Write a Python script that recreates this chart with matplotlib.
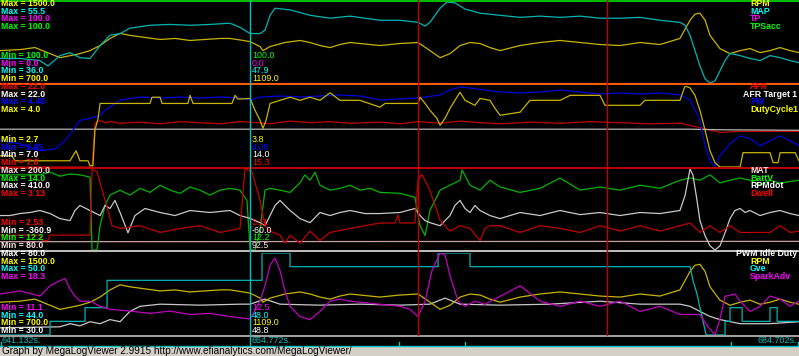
import matplotlib
matplotlib.use('Agg')
import matplotlib.pyplot as plt
from matplotlib.patches import Rectangle

W, H = 799, 356
t_start, t_end = 641.132, 684.702
cursor_t = 654.772
marker_t = [663.93, 674.23]
tick_t = [641.18, 662.89, 666.49, 681.0, 684.65]

# ---- panel 1 ----
rpm_t = [641.13, 642.22, 643.04, 643.86, 644.40, 644.95, 645.49, 646.04, 646.59, 647.13, 647.68,
         648.22, 649.04, 649.86, 650.68, 651.49, 652.31, 653.13, 653.67, 654.22, 654.77, 655.31,
         655.47, 655.86, 656.67, 657.49, 658.04, 658.58, 659.13, 659.67, 660.22, 661.04, 661.85,
         662.94, 663.93, 664.58, 665.13, 665.67, 666.22, 666.76, 667.31, 667.85, 668.40, 669.49,
         670.58, 671.67, 672.76, 673.85, 674.94, 676.03, 677.12, 678.21, 678.76, 679.03, 679.30,
         679.58, 679.85, 680.39, 680.94, 681.49, 682.03, 682.58, 683.12, 683.67, 684.21, 684.70]
rpm_v = [1020, 1030, 1050, 990, 950, 970, 990, 1020, 1070, 1140, 1190,
         1170, 1150, 1130, 1140, 1120, 1130, 1140, 1140, 1125, 1109, 1060,
         1020, 1060, 1100, 1120, 1100, 1070, 1050, 1080, 1100, 1085, 1070,
         1090, 1100, 1020, 950, 990, 1070, 1100, 1090, 1050, 1020, 1070,
         1100, 1120, 1100, 1080, 1070, 1100, 1080, 1140, 1320, 1380, 1390,
         1320, 1170, 1040, 990, 1020, 1040, 1000, 1020, 1050, 1020, 1000]

map_t = [641.13, 642.22, 643.31, 643.75, 644.40, 644.95, 645.49, 646.04, 646.59, 647.13, 647.68,
         648.22, 649.31, 650.40, 651.49, 652.58, 653.67, 654.22, 654.77, 655.31, 655.58, 655.86,
         656.13, 656.95, 658.04, 659.13, 660.22, 661.85, 662.94, 663.93, 664.31, 664.58, 665.13,
         665.51, 665.94, 666.49, 667.31, 668.40, 669.49, 670.58, 671.67, 672.76, 673.85, 674.94,
         676.03, 677.12, 678.21, 678.49, 678.76, 679.03, 679.30, 679.58, 679.85, 680.12, 680.39,
         680.67, 680.94, 681.49, 682.03, 682.58, 683.12, 683.67, 684.21, 684.70]
map_v = [41.9, 41.9, 41.4, 40.1, 42.6, 43.3, 42.1, 41.9, 45.0, 47.5, 47.9,
         49.2, 49.9, 50.1, 49.9, 50.1, 50.4, 49.4, 47.9, 47.9, 48.7, 52.3,
         54.0, 53.6, 52.3, 51.6, 52.1, 51.1, 51.1, 50.6, 49.7, 50.6, 54.0,
         55.5, 55.3, 53.8, 52.8, 52.3, 51.8, 52.1, 51.8, 52.1, 51.6, 51.6,
         51.8, 51.1, 50.6, 49.9, 47.5, 43.8, 40.1, 37.0, 36.0, 36.5, 38.9,
         41.4, 43.1, 42.6, 41.9, 41.4, 42.6, 42.1, 41.4, 40.9]

tp_t = [641.13, 684.70]
tp_v = [0.0, 0.0]

# ---- panel 2 ----
afr_t = [641.13, 646.15, 646.31, 646.59, 646.86, 647.13, 647.68, 648.77, 649.86, 650.95, 652.04,
         653.13, 654.22, 654.77, 655.86, 656.95, 658.04, 659.13, 660.22, 661.85, 662.94, 663.93,
         665.13, 666.22, 667.31, 668.40, 670.03, 671.67, 673.31, 674.94, 676.57, 678.21, 679.30,
         680.39, 681.49, 683.12, 684.70]
afr_v = [7.0, 7.0, 15.1, 15.6, 15.2, 15.4, 15.1, 15.3, 15.0, 15.4, 15.2,
         15.0, 15.4, 15.3, 15.0, 15.5, 15.2, 15.4, 15.1, 15.3, 15.0, 15.4,
         15.1, 15.5, 15.2, 15.0, 15.3, 15.1, 15.4, 15.2, 15.0, 15.1, 14.3,
         13.4, 13.6, 13.6, 13.6]

afrt_t = [641.13, 678.76, 680.39, 684.70]
afrt_v = [14.0, 14.0, 13.9, 13.8]

pw_t = [641.13, 642.22, 643.31, 644.13, 644.68, 645.49, 646.04, 646.59, 646.86, 647.68, 648.77,
        649.86, 650.95, 652.04, 653.13, 654.22, 654.77, 655.31, 656.40, 657.49, 658.58, 659.67,
        660.76, 661.85, 663.93, 664.31, 665.13, 665.67, 666.22, 666.76, 668.40, 669.49, 670.58,
        671.67, 672.76, 673.85, 674.94, 676.03, 677.12, 678.21, 678.76, 679.30, 679.58, 679.85,
        680.12, 680.39, 680.94, 681.49, 682.03, 682.58, 683.12, 683.67, 684.21, 684.70]
pw_v = [2.84, 2.75, 2.54, 2.60, 2.84, 3.45, 3.51, 3.60, 3.75, 4.06, 4.15,
        4.12, 4.15, 4.12, 4.15, 4.12, 4.06, 4.15, 4.18, 4.15, 4.18, 4.21,
        4.18, 4.06, 4.12, 4.15, 4.21, 4.36, 4.45, 4.42, 4.30, 4.27, 4.30,
        4.36, 4.30, 4.24, 4.27, 4.24, 4.27, 4.21, 4.06, 3.45, 2.69, 2.23,
        2.08, 2.39, 2.75, 2.99, 2.90, 2.69, 2.84, 2.99, 2.84, 2.69]

dc_t = [641.13, 641.78, 641.95, 644.95, 645.11, 645.28, 645.39, 645.49, 645.93, 646.04, 646.20,
        646.31, 646.48, 646.59, 649.31, 649.42, 649.86, 649.97, 651.38, 651.49, 651.66, 653.78,
        653.95, 654.11, 654.77, 655.04, 655.31, 655.47, 655.64, 655.86, 656.40, 656.95, 657.49,
        658.04, 658.58, 659.13, 659.67, 660.76, 661.85, 662.13, 663.93, 664.04, 664.31, 664.58,
        664.96, 665.13, 665.40, 665.67, 665.94, 666.22, 666.49, 667.03, 667.31, 667.85, 668.13,
        668.40, 669.49, 670.03, 671.67, 672.22, 673.85, 674.12, 676.03, 676.30, 678.21, 678.49,
        678.76, 679.03, 679.30, 679.58, 679.85, 680.12, 680.39, 681.49, 681.65, 683.12, 683.29,
        683.56, 683.67, 684.49, 684.70]
dc_v = [2.88, 2.88, 2.80, 2.80, 2.88, 2.96, 2.88, 2.80, 2.80, 2.72, 2.72,
        3.29, 3.48, 3.72, 3.72, 3.82, 3.82, 3.72, 3.72, 3.85, 3.72, 3.72,
        3.85, 3.79, 3.80, 3.61, 3.45, 3.32, 3.45, 3.72, 3.77, 3.82, 3.77,
        3.82, 3.77, 3.89, 3.77, 3.77, 3.66, 3.72, 3.72, 3.82, 3.72, 3.61,
        3.48, 3.37, 3.48, 3.64, 3.77, 3.90, 3.77, 3.69, 3.80, 3.77, 3.64,
        3.53, 3.58, 3.77, 3.77, 3.85, 3.85, 3.69, 3.69, 3.77, 3.77, 4.00,
        3.97, 3.85, 3.61, 3.29, 2.96, 2.77, 2.70, 2.70, 2.93, 2.93, 2.77,
        2.77, 2.93, 2.93, 2.80]

# ---- panel 3 ----
mat_t = [641.13, 654.77, 684.70]
mat_v = [92.3, 92.5, 92.8]

batt_t = [641.13, 643.31, 643.86, 644.40, 644.95, 645.49, 646.04, 646.15, 646.42, 646.59, 646.86,
          647.13, 647.68, 648.22, 648.77, 649.31, 649.86, 650.40, 650.95, 651.49, 652.04, 652.58,
          653.13, 653.67, 654.22, 654.60, 654.77, 655.04, 655.31, 655.58, 655.86, 656.40, 656.95,
          657.49, 657.76, 658.04, 658.31, 658.58, 659.13, 659.67, 660.22, 660.76, 661.31, 661.85,
          662.94, 663.76, 664.04, 664.31, 664.58, 665.13, 665.67, 666.22, 666.33, 666.76, 667.31,
          667.85, 668.40, 669.49, 670.58, 671.67, 672.76, 673.85, 674.94, 676.03, 677.12, 678.21,
          678.76, 679.30, 679.85, 680.39, 680.94, 681.49, 682.03, 682.58, 683.12, 683.67, 684.70]
batt_v = [13.87, 13.87, 13.93, 13.84, 13.89, 13.87, 13.82, 12.2, 12.2, 12.74, 13.19,
          13.42, 13.53, 13.42, 13.57, 13.48, 13.64, 13.53, 13.46, 13.60, 13.53, 13.42,
          13.53, 13.57, 13.53, 13.30, 12.2, 12.2, 12.63, 13.53, 13.57, 13.53, 13.48,
          13.69, 13.87, 13.75, 13.93, 13.64, 13.53, 13.57, 13.64, 13.53, 13.57, 13.48,
          13.46, 13.37, 12.74, 12.52, 13.08, 13.53, 13.64, 13.75, 13.98, 13.64, 13.53,
          13.75, 13.60, 13.48, 13.57, 13.80, 13.53, 13.60, 13.53, 13.64, 13.57, 13.75,
          13.80, 13.75, 13.87, 13.69, 13.75, 13.80, 13.75, 13.64, 13.75, 13.69, 13.75]

rpmdot_t = [641.13, 641.68, 642.22, 642.77, 643.31, 643.86, 644.40, 644.95, 645.22, 645.49, 646.04,
            646.59, 646.86, 647.13, 647.40, 647.68, 648.11, 648.49, 649.04, 649.86, 650.68, 651.49,
            652.58, 653.67, 654.22, 654.77, 655.31, 655.58, 655.86, 656.13, 656.40, 656.95, 657.49,
            658.04, 658.58, 659.13, 659.67, 660.22, 661.04, 661.85, 662.94, 663.76, 664.04, 664.31,
            664.58, 665.13, 665.67, 665.94, 666.22, 666.49, 666.76, 667.03, 667.31, 667.85, 668.40,
            669.49, 670.58, 671.67, 672.76, 673.85, 674.94, 676.03, 677.12, 678.21, 678.49, 678.76,
            678.92, 679.14, 679.30, 679.58, 679.85, 680.12, 680.39, 680.67, 680.94, 681.21, 681.49,
            681.76, 682.03, 682.58, 683.12, 683.67, 684.21, 684.70]
rpmdot_v = [-33, -33, -14, -4, 15, -14, -62, -81, 15, 63, 15,
            -33, 63, 34, 111, -4, -197, -33, 34, -4, -33, 15,
            -4, 15, -33, -60, -101, -130, -33, 63, 111, 15, -62,
            -101, -4, -33, -4, 15, -14, -14, -4, 34, -33, -81,
            -101, -130, -33, 63, 111, 34, -4, 63, 15, -33, -62,
            -4, -33, 15, -24, -4, -33, -4, -14, 15, 159, 410,
            352, 111, -81, -226, -322, -361, -322, -197, -62, 15, 34,
            -4, 15, -33, -4, 15, -14, -33]

dwell_t = [641.13, 643.31, 643.47, 643.75, 643.86, 646.04, 646.15, 646.42, 646.86, 647.24, 647.68,
           648.77, 649.86, 650.95, 652.04, 653.13, 654.22, 654.49, 654.87, 655.31, 655.58, 655.86,
           656.40, 656.67, 656.95, 657.49, 658.04, 658.58, 659.13, 660.22, 661.85, 662.67, 662.84,
           662.94, 663.76, 663.93, 664.14, 664.58, 665.13, 665.67, 666.22, 666.76, 667.31, 667.58,
           667.85, 668.40, 669.49, 670.58, 671.67, 672.76, 673.85, 674.94, 676.03, 677.12, 678.21,
           678.76, 679.30, 679.85, 680.39, 680.94, 681.49, 683.12, 683.67, 684.21, 684.70]
dwell_v = [2.64, 2.64, 2.60, 2.60, 2.64, 2.64, 3.13, 3.11, 2.90, 2.71, 2.69,
           2.71, 2.66, 2.69, 2.71, 2.66, 2.69, 3.13, 3.11, 2.90, 2.71, 2.67,
           2.64, 2.58, 2.64, 2.58, 2.67, 2.60, 2.66, 2.69, 2.73, 2.73, 2.79,
           2.73, 2.73, 3.05, 3.09, 2.97, 2.75, 2.67, 2.71, 2.69, 2.60, 2.69,
           2.71, 2.71, 2.66, 2.71, 2.69, 2.66, 2.71, 2.67, 2.71, 2.67, 2.71,
           2.73, 2.66, 2.71, 2.66, 2.71, 2.66, 2.66, 2.71, 2.66, 2.67]

# ---- panel 4 ----
pwm_t = [641.13, 644.40, 644.95, 645.49, 646.04, 646.59, 647.13, 647.68, 648.22, 648.77, 649.86,
         652.04, 654.22, 654.77, 655.58, 656.40, 658.58, 660.76, 662.94, 664.58, 665.40, 666.22,
         668.40, 671.12, 673.85, 676.03, 678.21, 678.76, 679.30, 679.85, 680.39, 681.49, 683.12,
         684.70]
pwm_v = [34.4, 35.0, 36.9, 35.6, 38.1, 36.9, 39.4, 38.1, 44.4, 47.5, 48.8,
         48.2, 48.8, 48.8, 51.9, 48.8, 48.2, 48.8, 48.2, 48.8, 52.5, 48.8,
         48.2, 48.8, 50.6, 48.8, 48.8, 47.5, 44.4, 41.3, 39.4, 36.9, 36.9,
         38.1]

gve_t = [641.13, 643.86, 643.86, 645.77, 645.77, 646.97, 646.97, 655.42, 655.42, 656.95, 656.95,
         665.02, 665.02, 666.76, 666.76, 678.76, 678.92, 679.14, 679.30, 679.47, 679.64, 680.67,
         680.67, 680.94, 680.94, 681.60, 681.60, 683.12, 683.12, 683.51, 683.51, 684.70]
gve_v = [44, 44, 45, 45, 46, 46, 48, 48, 50, 50, 49,
         49, 50, 50, 49, 49, 48, 47, 46, 45, 44, 44,
         45, 45, 46, 46, 45, 45, 46, 46, 45, 45]

spk_t = [641.13, 642.22, 643.31, 643.86, 644.40, 644.68, 644.95, 645.22, 645.49, 646.04, 646.59,
         647.13, 648.22, 649.31, 650.40, 651.49, 652.58, 653.67, 654.77, 655.31, 655.58, 655.86,
         656.13, 656.40, 656.67, 656.95, 657.49, 658.04, 658.58, 659.13, 659.67, 660.22, 661.85,
         662.94, 663.49, 663.93, 664.31, 664.69, 665.13, 665.40, 665.67, 666.11, 666.49, 667.03,
         667.58, 668.40, 669.49, 670.58, 671.67, 672.76, 673.85, 674.94, 676.03, 677.12, 678.21,
         679.30, 679.74, 680.12, 680.39, 680.67, 681.21, 681.49, 682.03, 682.58, 683.12, 683.67,
         684.21, 684.70]
spk_v = [14.7, 14.97, 14.52, 15.42, 15.87, 16.05, 15.15, 14.52, 14.07, 14.07, 13.62,
         13.35, 13.2, 13.0, 13.2, 12.9, 13.0, 12.72, 12.5, 14.07, 15.42, 17.22,
         17.85, 16.77, 14.97, 13.62, 12.72, 12.45, 13.17, 14.07, 14.25, 14.07, 13.8,
         13.62, 13.35, 12.72, 14.07, 16.77, 18.3, 18.12, 16.32, 14.07, 13.62, 14.07,
         13.8, 14.5, 15.42, 14.07, 13.62, 14.07, 13.62, 14.07, 13.17, 13.62, 12.9,
         12.9, 11.8, 11.1, 12.5, 14.5, 14.7, 14.07, 13.17, 13.62, 14.52, 14.25,
         13.62, 14.07]

# (name, label colour, line colour, t, v, min, max, cursor value)
panel1 = [("RPM", "#ffff00", "#c8b400", rpm_t, rpm_v, 700.0, 1500.0, "1109.0"),
          ("MAP", "#00ffff", "#00b4b4", map_t, map_v, 36.0, 55.5, "47.9"),
          ("TP", "#ff00ff", "#c000c0", tp_t, tp_v, 0.0, 100.0, "0.0"),
          ("TPSacc", "#00ff00", "#00c000", None, None, 100.0, 100.0, "100.0")]
panel2 = [("AFR", "#ff0000", "#c00000", afr_t, afr_v, 7.0, 22.0, "15.3"),
          ("AFR Target 1", "#ffffff", "#b4b4b4", afrt_t, afrt_v, 7.0, 22.0, "14.0"),
          ("PW", "#0000ff", "#0000e0", pw_t, pw_v, 2.053, 4.48, "4.08"),
          ("DutyCycle1", "#ffff00", "#c8b400", dc_t, dc_v, 2.7, 4.0, "3.8")]
panel3 = [("MAT", "#ffe0e0", "#c8a0a0", mat_t, mat_v, 80.0, 200.0, "92.5"),
          ("BattV", "#00ff00", "#00b400", batt_t, batt_v, 12.2, 14.0, "12.2"),
          ("RPMdot", "#ffffff", "#c8c8c8", rpmdot_t, rpmdot_v, -360.9, 410.0, "-60.0"),
          ("Dwell", "#ff0000", "#c00000", dwell_t, dwell_v, 2.53, 3.13, "3.11")]
panel4 = [("PWM Idle Duty", "#ffffff", "#c8c8c8", pwm_t, pwm_v, 30.0, 80.0, "48.8"),
          ("RPM", "#ffff00", "#c8b400", rpm_t, rpm_v, 700.0, 1500.0, "1109.0"),
          ("Gve", "#00ffff", "#00b4b4", gve_t, gve_v, 44.0, 50.0, "48.0"),
          ("SparkAdv", "#ff00ff", "#c000c0", spk_t, spk_v, 11.1, 18.3, "12.5")]

fmt = {"PW": "%.2f", "Dwell": "%.2f"}

fig = plt.figure(figsize=(W / 100, H / 100), dpi=100, facecolor='black')
renderer = fig.canvas.get_renderer()


def box(x0, y0, w, h):
    return [x0 / W, 1 - (y0 + h) / H, w / W, h / H]


def fx(x):
    return x / W


def fy(y):
    return 1 - y / H


# panel layout: (border y, interior top, interior bottom, border colour, next border)
layout = [(0, 2, 83, "#00c000", 83), (83, 86, 167, "#ff6000", 167),
          (167, 169, 250, "#c00000", 250), (250, 253, 335, "#c0c0c0", 335)]
panels = [panel1, panel2, panel3, panel4]

lab = dict(fontsize=6.3, fontweight='bold', family='Liberation Sans', va='center')
val = dict(fontsize=6.4, family='Liberation Sans', va='center')

for (yb, top, bot, bcol, nxt), series in zip(layout, panels):
    for name, lcol, pcol, t, v, lo, hi, cur in series:
        if t is None or hi <= lo:
            continue
        ax = fig.add_axes(box(0, top, W, bot - top))
        ax.set_xlim(t_start, t_end)
        ax.set_ylim(lo, hi)
        ax.axis('off')
        ax.set_zorder(1)
        ax.plot(t, v, color=pcol, lw=0.9)
    for i, (name, lcol, pcol, t, v, lo, hi, cur) in enumerate(series):
        ff = fmt.get(name, "%.1f")
        fig.text(fx(1), fy(yb + 3.8 + 7.5 * i), "Max = " + (ff % hi), color=lcol, **lab)
        txt = fig.text(fx(750), fy(yb + 3.8 + 7.5 * i), name, color=lcol, **lab)
        if txt.get_window_extent(renderer).x1 > 801:
            txt.set_x(fx(797))
            txt.set_ha('right')
    for i, (name, lcol, pcol, t, v, lo, hi, cur) in enumerate(series[::-1]):
        ff = fmt.get(name, "%.1f")
        yy = nxt - 4.8 - 7.5 * (3 - i)
        fig.text(fx(1), fy(yy), "Min = " + (ff % lo), color=lcol, **lab)
        fig.text(fx(252), fy(yy), cur, color=lcol, **val)

# decorations drawn over the traces: panel borders, time bar, status bar
deco = fig.add_axes([0, 0, 1, 1])
deco.set_xlim(0, W)
deco.set_ylim(H, 0)
deco.axis('off')
deco.set_zorder(3)
for yb, top, bot, bcol, nxt in layout:
    deco.plot([0, W], [yb + 0.5, yb + 0.5], color=bcol, lw=1.4)
deco.plot([0, W], [335.5, 335.5], color="#c0c0c0", lw=1.2)
deco.add_patch(Rectangle((0, 336.2), W, 10, color="black"))
deco.plot([0, W], [346, 346], color="#00c0c0", lw=1.0)
deco.add_patch(Rectangle((0, 347), W, H - 347, color="#d4d0c8"))
fig.text(fx(2), fy(351.5), "Graph by MegaLogViewer 2.9915 http://www.efianalytics.com/MegaLogViewer/",
         color="#000000", fontsize=7.2, family='Liberation Sans', va='center', zorder=5)

# vertical cursor and markers in time units
vax = fig.add_axes(box(0, 0, W, 346))
vax.set_xlim(t_start, t_end)
vax.set_ylim(346, 0)
vax.axis('off')
vax.set_zorder(4)
vax.plot([cursor_t, cursor_t], [0, 346], color="#00c0c0", lw=1.0)
for mt in marker_t:
    vax.plot([mt, mt], [0, 335], color="#c00000", lw=1.0)
for tt in tick_t:
    vax.plot([tt, tt], [342, 346], color="#00c0c0", lw=1.0)

fig.text(fx(2), fy(340.5), "%.3fs." % t_start, color="#00c0c0", zorder=5, **val)
fig.text(fx(252), fy(340.5), "%.3fs." % cursor_t, color="#00c0c0", zorder=5, **val)
fig.text(fx(797), fy(340.5), "%.3fs." % t_end, color="#00c0c0", zorder=5, ha='right',
         fontsize=6.4, family='Liberation Sans', va='center')

fig.savefig('out.png', dpi=100, facecolor='black')
